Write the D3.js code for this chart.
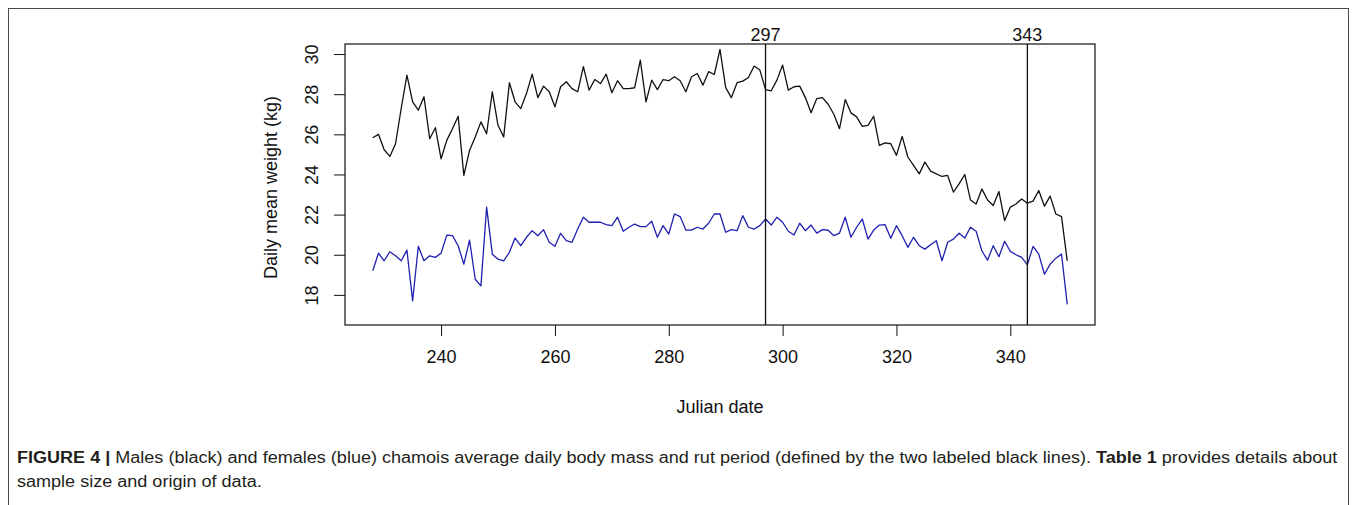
<!DOCTYPE html>
<html>
<head>
<meta charset="utf-8">
<script src="https://cdn.jsdelivr.net/npm/d3@7"></script>
<style>
  html, body { margin: 0; padding: 0; background: #fff; }
  svg { display: block; font-family: "Liberation Sans", Arial, sans-serif; }
</style>
</head>
<body>
<svg id="chart" width="1357" height="505"></svg>
<script>
// ---- data ----
const firstDay = 228;
const males = [
  25.83, 26.0, 25.23, 24.9, 25.53, 27.3, 28.95, 27.62, 27.2, 27.87,
  25.78, 26.33, 24.78, 25.7, 26.28, 26.9, 23.95, 25.2, 25.87, 26.62,
  26.03, 28.12, 26.45, 25.87, 28.57, 27.62, 27.28, 28.03, 29.0, 27.83,
  28.4, 28.12, 27.37, 28.37, 28.62, 28.28, 28.12, 29.37, 28.2, 28.73,
  28.53, 29.0, 28.07, 28.67, 28.28, 28.28, 28.32, 29.7, 27.62, 28.7,
  28.23, 28.73, 28.67, 28.87, 28.67, 28.12, 28.87, 29.03, 28.45, 29.12,
  28.98, 30.23, 28.33, 27.83, 28.57, 28.65, 28.83, 29.4, 29.2, 28.23,
  28.17, 28.7, 29.45, 28.2, 28.37, 28.4, 27.83, 27.07, 27.78, 27.83,
  27.5, 27.0, 26.28, 27.73, 27.07, 26.87, 26.4, 26.45, 26.9, 25.45,
  25.57, 25.53, 24.95, 25.9, 24.87, 24.45, 24.03, 24.62, 24.17, 24.03,
  23.9, 23.95, 23.12, 23.53, 24.0, 22.73, 22.53, 23.28, 22.73, 22.45,
  23.15, 21.7, 22.37, 22.53, 22.78, 22.57, 22.67, 23.2, 22.42, 22.92,
  22.03, 21.9, 19.7
];
const females = [
  19.2, 20.08, 19.7, 20.15, 19.95, 19.7, 20.23, 17.7, 20.42, 19.7,
  19.95, 19.87, 20.08, 20.98, 20.95, 20.45, 19.53, 20.73, 18.78, 18.45,
  22.37, 20.03, 19.78, 19.7, 20.12, 20.83, 20.45, 20.87, 21.2, 20.95,
  21.25, 20.62, 20.42, 21.07, 20.7, 20.62, 21.28, 21.87, 21.62, 21.62,
  21.62, 21.5, 21.45, 21.87, 21.17, 21.37, 21.53, 21.4, 21.4, 21.67,
  20.87, 21.45, 21.03, 22.03, 21.9, 21.23, 21.23, 21.37, 21.28, 21.57,
  22.03, 22.03, 21.12, 21.25, 21.2, 21.95, 21.37, 21.28, 21.45, 21.78,
  21.48, 21.87, 21.62, 21.17, 20.98, 21.57, 21.2, 21.48, 21.08, 21.25,
  21.22, 20.95, 21.08, 21.87, 20.87, 21.37, 21.78, 20.78, 21.23, 21.48,
  21.5, 20.82, 21.45, 20.95, 20.37, 20.87, 20.45, 20.28, 20.5, 20.7,
  19.7, 20.62, 20.78, 21.07, 20.83, 21.37, 21.17, 20.2, 19.73, 20.45,
  19.9, 20.67, 20.17, 20.0, 19.87, 19.5, 20.42, 20.03, 19.03, 19.53,
  19.83, 20.03, 17.53
];
const days = males.map((_, i) => firstDay + i);
const xTicks = [240, 260, 280, 300, 320, 340];
const yTicks = [18, 20, 22, 24, 26, 28, 30];
const rutLines = [297, 343];
const xTitle = "Julian date";
const yTitle = "Daily mean weight (kg)";

// ---- layout ----
const svg = d3.select("#chart");
const plot = { left: 345, right: 1095, top: 44, bottom: 325 };
const ext = (350 - 228) * 0.04;
const x = d3.scaleLinear().domain([228 - ext, 350 + ext]).range([plot.left, plot.right]);
const y = d3.scaleLinear().domain([16.5, 30.5]).range([plot.bottom, plot.top]);

svg.append("rect").attr("width", 1357).attr("height", 505).attr("fill", "#fff");
// figure frame
svg.append("rect")
  .attr("x", 8.5).attr("y", 8.5).attr("width", 1340).attr("height", 600)
  .attr("fill", "none").attr("stroke", "#4a4a4a").attr("stroke-width", 1);

// axes
const xAxis = d3.axisBottom(x).tickValues(xTicks).tickSize(11).tickPadding(14).tickFormat(d3.format("d"));
const gx = svg.append("g").attr("transform", `translate(0,${plot.bottom})`).call(xAxis);
gx.select(".domain").remove();
gx.selectAll("text").attr("font-size", 18).attr("fill", "#111").attr("font-family", "Liberation Sans, Arial, sans-serif");
gx.selectAll("line").attr("stroke", "#111");

const yAxis = d3.axisLeft(y).tickValues(yTicks).tickSize(11).tickFormat(d3.format("d"));
const gy = svg.append("g").attr("transform", `translate(${plot.left},0)`).call(yAxis);
gy.select(".domain").remove();
gy.selectAll("line").attr("stroke", "#111");
gy.selectAll("text")
  .attr("font-size", 18).attr("fill", "#111").attr("font-family", "Liberation Sans, Arial, sans-serif")
  .attr("x", 0).attr("dy", null).attr("text-anchor", "middle")
  .attr("transform", d => `translate(-27,0) rotate(-90)`)
  .attr("y", 0);

// lines
const line = d3.line().x((d, i) => x(days[i])).y(d => y(d));
svg.append("path").datum(males).attr("d", line)
  .attr("fill", "none").attr("stroke", "#111").attr("stroke-width", 1.3).attr("stroke-linejoin", "round");
svg.append("path").datum(females).attr("d", line)
  .attr("fill", "none").attr("stroke", "#1f1fb0").attr("stroke-width", 1.3).attr("stroke-linejoin", "round");

// rut lines
svg.selectAll(".rut").data(rutLines).enter().append("line")
  .attr("x1", d => x(d)).attr("x2", d => x(d))
  .attr("y1", plot.top).attr("y2", plot.bottom)
  .attr("stroke", "#111").attr("stroke-width", 1.3);
svg.selectAll(".rutlab").data(rutLines).enter().append("text")
  .attr("x", d => x(d)).attr("y", plot.top - 3)
  .attr("text-anchor", "middle").attr("font-size", 18).attr("fill", "#111")
  .text(d => d);

// plot box
svg.append("rect")
  .attr("x", plot.left).attr("y", plot.top)
  .attr("width", plot.right - plot.left).attr("height", plot.bottom - plot.top)
  .attr("fill", "none").attr("stroke", "#111").attr("stroke-width", 1.2);

// axis titles
svg.append("text").attr("x", (plot.left + plot.right) / 2).attr("y", 413)
  .attr("text-anchor", "middle").attr("font-size", 18).attr("fill", "#111").text(xTitle);
svg.append("text").attr("transform", `translate(277,${(plot.top + plot.bottom) / 2 + 3}) rotate(-90)`)
  .attr("text-anchor", "middle").attr("font-size", 18).attr("fill", "#111").text(yTitle);

// caption
const cap1 = svg.append("text").attr("font-size", 16).attr("fill", "#231f20");
cap1.append("tspan").attr("font-weight", "bold").text("FIGURE 4 | ");
cap1.append("tspan").text("Males (black) and females (blue) chamois average daily body mass and rut period (defined by the two labeled black lines). ");
cap1.append("tspan").attr("font-weight", "bold").text("Table 1");
cap1.append("tspan").text(" provides details about");
const w1 = cap1.node().getComputedTextLength();
const sx = 1321 / w1;
cap1.attr("transform", `translate(17,463) scale(${sx},1)`);
const cap2 = svg.append("text").attr("font-size", 16).attr("fill", "#231f20")
  .text("sample size and origin of data.");
cap2.attr("transform", `translate(17,487) scale(${sx},1)`);
</script>
</body>
</html>
